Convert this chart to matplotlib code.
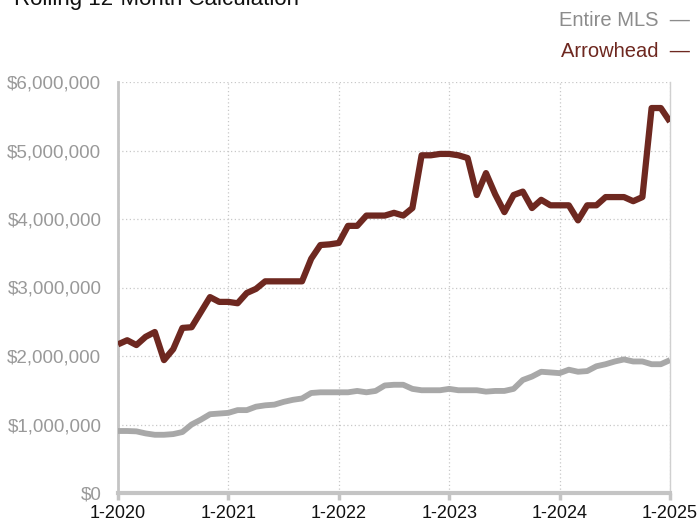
import matplotlib
matplotlib.use("Agg")
import matplotlib.pyplot as plt
from matplotlib.ticker import FuncFormatter
import numpy as np

plt.rcParams['font.family'] = ['Liberation Sans', 'DejaVu Sans']

# monthly rolling 12-month values, Jan 2020 .. Jan 2025 (millions $)
arrowhead = [2.17, 2.23, 2.16, 2.28, 2.35, 1.94, 2.10, 2.41, 2.42, 2.64,
             2.86, 2.79, 2.79, 2.77, 2.92, 2.98, 3.09, 3.09, 3.09, 3.09,
             3.09, 3.42, 3.62, 3.63, 3.65, 3.90, 3.90, 4.05, 4.05, 4.05,
             4.09, 4.05, 4.16, 4.93, 4.93, 4.95, 4.95, 4.93, 4.89, 4.35,
             4.67, 4.36, 4.10, 4.35, 4.40, 4.16, 4.28, 4.20, 4.20, 4.20,
             3.98, 4.20, 4.20, 4.32, 4.32, 4.32, 4.26, 4.32, 5.62, 5.62,
             5.42]
entire_mls = [0.905, 0.905, 0.90, 0.87, 0.85, 0.85, 0.86, 0.89, 1.00, 1.07,
              1.15, 1.16, 1.17, 1.21, 1.21, 1.26, 1.28, 1.29, 1.33, 1.36,
              1.38, 1.46, 1.47, 1.47, 1.47, 1.47, 1.49, 1.47, 1.49, 1.57,
              1.58, 1.58, 1.52, 1.50, 1.50, 1.50, 1.52, 1.50, 1.50, 1.50,
              1.48, 1.49, 1.49, 1.52, 1.65, 1.70, 1.77, 1.76, 1.75, 1.80,
              1.77, 1.78, 1.85, 1.88, 1.92, 1.95, 1.92, 1.92, 1.88, 1.88,
              1.94]
xtick_labels = ['1-2020', '1-2021', '1-2022', '1-2023', '1-2024', '1-2025']

red = '#6e2820'
gray = '#a8a8a8'

months = np.arange(len(arrowhead))
fig = plt.figure(figsize=(7, 5.25), dpi=100)
ax = fig.add_axes([118/700, 1 - 493/525, 552/700, 411/525])

ax.plot(months, np.array(entire_mls) * 1e6, color=gray, lw=4.2,
        solid_joinstyle='round', solid_capstyle='butt', zorder=3)
ax.plot(months, np.array(arrowhead) * 1e6, color=red, lw=4.5,
        solid_joinstyle='round', solid_capstyle='butt', zorder=4)

ax.set_xlim(0, 60)
ax.set_ylim(0, 6e6)
ax.set_xticks(np.arange(0, 61, 12))
ax.set_xticklabels(xtick_labels)
ax.set_yticks(np.arange(0, 6.01e6, 1e6))
ax.yaxis.set_major_formatter(FuncFormatter(lambda v, p: f'${v:,.0f}'))

ax.grid(True, color='#c8c8c8', linestyle=(0, (1, 2)), linewidth=0.9)
ax.tick_params(axis='y', length=0, pad=12, labelsize=13.5, labelcolor='#999999')
ax.tick_params(axis='x', length=5, width=2.5, color='#c4c4c4', pad=4,
               labelsize=13, labelcolor='#111111')
ax.spines['top'].set_visible(False)
ax.spines['left'].set_color('#c4c4c4')
ax.spines['left'].set_linewidth(2)
ax.spines['bottom'].set_color('#c4c4c4')
ax.spines['bottom'].set_linewidth(3)
ax.spines['right'].set_color('#d0d0d0')
ax.spines['right'].set_linewidth(1)

fig.text(14/700, 1 - 5/525, 'Rolling 12-Month Calculation', fontsize=16,
         color='#111111', va='baseline', ha='left')
fig.text(690/700, 1 - 20/525, 'Entire MLS  \u2014', fontsize=14.5, color='#8c8c8c',
         ha='right', va='center')
fig.text(690/700, 1 - 51/525, 'Arrowhead  \u2014', fontsize=14.5, color=red,
         ha='right', va='center')

fig.savefig('out.png', dpi=100)
